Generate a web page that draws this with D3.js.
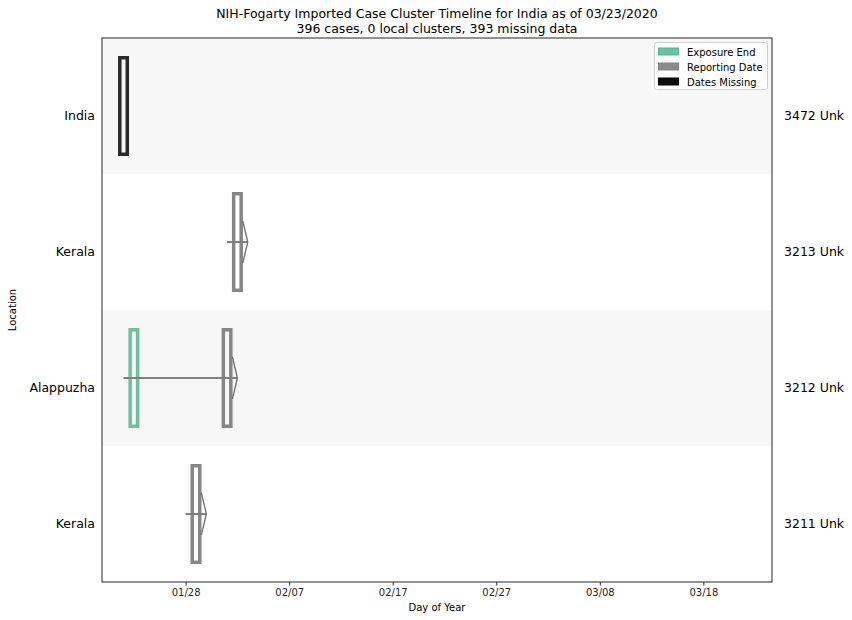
<!DOCTYPE html>
<html>
<head>
<meta charset="utf-8">
<script src="https://cdn.jsdelivr.net/npm/d3@7"></script>
<style>
  body { margin: 0; background: #fff; }
  svg { font-family: "DejaVu Sans", sans-serif; }
</style>
</head>
<body>
<svg id="chart" width="852" height="620"></svg>
<script>
// ---------- data ----------
const titleLines = ["NIH-Fogarty Imported Case Cluster Timeline for India as of 03/23/2020",
                    "396 cases, 0 local clusters, 393 missing data"];
const locations   = ["India", "Kerala", "Alappuzha", "Kerala"];
const caseIds     = ["3472 Unk", "3213 Unk", "3212 Unk", "3211 Unk"];
// day-of-year values
const reportDay   = [null, 34, 33, 30];
const exposureEnd = [null, null, 24, null];
const missingDay  = [23, null, null, null];
const lineStart   = [null, 33, 23, 29];
const lineEnd     = [null, 35, 34, 31];
const tickDays    = [29, 39, 49, 59, 69, 79];
const tickLabels  = ["01/28", "02/07", "02/17", "02/27", "03/08", "03/18"];
const legendItems = ["Exposure End", "Reporting Date", "Dates Missing"];
const legendColors = ["#66c2a5", "#808080", "#000000"];

// ---------- layout ----------
const svg = d3.select("#chart");
const L = 102, R = 772, T = 38, B = 582;
const x = d3.scaleLinear().domain([20.92, 85.63]).range([L, R]);
const y = d3.scaleBand().domain(d3.range(locations.length)).range([T, B]).padding(0);
const labelOffset = 9.5;

const cGreen = "#6cbf9f", cGray = "#868686", cBlack = "#2a2a2a";

// row shading
svg.append("g").selectAll("rect").data(d3.range(locations.length).filter(i => i % 2 === 0))
  .join("rect")
  .attr("x", L).attr("width", R - L)
  .attr("y", i => y(i)).attr("height", y.bandwidth())
  .attr("fill", "#f7f7f7");

const barW = 7.5, barH = 96.5, sw = 3.5;
const marks = svg.append("g");

function bar(day, i, color) {
  marks.append("rect")
    .attr("x", x(day) - barW / 2).attr("width", barW)
    .attr("y", y(i) + y.bandwidth() / 2 - barH / 2).attr("height", barH)
    .attr("fill", "none").attr("stroke", color).attr("stroke-width", sw);
}

locations.forEach((loc, i) => {
  if (missingDay[i] != null) bar(missingDay[i], i, cBlack);
  if (exposureEnd[i] != null) bar(exposureEnd[i], i, cGreen);
  if (reportDay[i] != null) bar(reportDay[i], i, cGray);
});

// interval lines with chevron arrowheads
locations.forEach((loc, i) => {
  if (lineStart[i] == null) return;
  const cy = y(i) + y.bandwidth() / 2;
  const x0 = x(lineStart[i]), x1 = x(lineEnd[i]);
  marks.append("line")
    .attr("x1", x0).attr("x2", x1).attr("y1", cy).attr("y2", cy)
    .attr("stroke", "#808080").attr("stroke-width", 2);
  marks.append("path")
    .attr("d", `M${x1 - 5},${cy - 21}L${x1},${cy}L${x1 - 5},${cy + 21}`)
    .attr("fill", "none").attr("stroke", "#6e6e6e").attr("stroke-width", 1.3);
});

// frame
svg.append("rect").attr("x", L).attr("y", T).attr("width", R - L).attr("height", B - T)
  .attr("fill", "none").attr("stroke", "#262626").attr("stroke-width", 1);

// x axis
const xAxis = d3.axisBottom(x).tickValues(tickDays)
  .tickFormat((d, k) => tickLabels[k]).tickSize(3.5).tickPadding(3.5);
const gx = svg.append("g").attr("transform", `translate(0,${B})`).call(xAxis);
gx.select(".domain").remove();
gx.selectAll(".tick line").attr("stroke", "#262626");
gx.selectAll(".tick text").attr("font-size", 10).attr("fill", "#262626")
  .attr("font-family", "DejaVu Sans, sans-serif");

// y labels (left) and case ids (right)
svg.append("g").selectAll("text").data(locations).join("text")
  .attr("x", 95).attr("y", (d, i) => y(i) + y.bandwidth() / 2 + labelOffset)
  .attr("dy", "0.35em").attr("text-anchor", "end")
  .attr("font-size", 12.5).attr("fill", "#000").text(d => d);

svg.append("g").selectAll("text").data(caseIds).join("text")
  .attr("x", 784).attr("y", (d, i) => y(i) + y.bandwidth() / 2 + labelOffset)
  .attr("dy", "0.35em").attr("text-anchor", "start")
  .attr("font-size", 12.5).attr("fill", "#000").text(d => d);

// axis titles
svg.append("text").attr("x", (L + R) / 2).attr("y", 611).attr("text-anchor", "middle")
  .attr("font-size", 10).text("Day of Year");
svg.append("text").attr("transform", `translate(16,${(T + B) / 2}) rotate(-90)`)
  .attr("text-anchor", "middle").attr("font-size", 10).text("Location");

// title
svg.append("g").selectAll("text").data(titleLines).join("text")
  .attr("x", (L + R) / 2).attr("y", (d, i) => 18 + i * 14.5)
  .attr("text-anchor", "middle").attr("font-size", 12.5).text(d => d);

// legend
const lg = svg.append("g");
lg.append("rect").attr("x", 654.5).attr("y", 42.5).attr("width", 113).attr("height", 47)
  .attr("rx", 2).attr("fill", "#fff").attr("fill-opacity", 0.8)
  .attr("stroke", "#d0d0d0").attr("stroke-width", 1);
legendItems.forEach((t, k) => {
  const yy = 48 + k * 15;
  lg.append("rect").attr("x", 658.5).attr("y", yy).attr("width", 20).attr("height", 7)
    .attr("fill", legendColors[k]).attr("fill-opacity", k === 0 ? 1 : 0.95)
    .attr("stroke", k === 0 ? "#5ab393" : legendColors[k]).attr("stroke-width", 1)
    .attr("opacity", k === 1 ? 0.95 : 1);
  lg.append("text").attr("x", 687).attr("y", yy + 7.5).attr("font-size", 10).text(t);
});
</script>
</body>
</html>
